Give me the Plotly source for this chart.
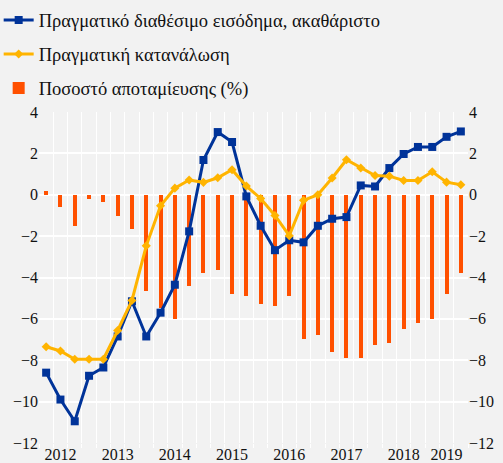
# =========================
# Dependencies
# =========================

import plotly.graph_objects as go

# =========================
# Data
# =========================

quarters = [
    '2012Q1', '2012Q2', '2012Q3', '2012Q4', '2013Q1', '2013Q2', '2013Q3', '2013Q4',
    '2014Q1', '2014Q2', '2014Q3', '2014Q4', '2015Q1', '2015Q2', '2015Q3', '2015Q4',
    '2016Q1', '2016Q2', '2016Q3', '2016Q4', '2017Q1', '2017Q2', '2017Q3', '2017Q4',
    '2018Q1', '2018Q2', '2018Q3', '2018Q4', '2019Q1', '2019Q2',
]

income = [
    -8.6, -9.9, -10.95, -8.75, -8.35, -6.85, -5.15, -6.85, -5.7, -4.35,
    -1.77, 1.68, 3.03, 2.55, -0.08, -1.5, -2.68, -2.2, -2.3, -1.5,
    -1.16, -1.08, 0.45, 0.4, 1.29, 1.97, 2.31, 2.31, 2.8, 3.06,
]

consumption = [
    -7.35, -7.55, -7.95, -7.95, -7.95, -6.56, -5.11, -2.47, -0.53, 0.32,
    0.71, 0.6, 0.82, 1.21, 0.42, -0.18, -1.0, -1.98, -0.27, 0.0,
    0.81, 1.69, 1.29, 0.93, 0.9, 0.69, 0.69, 1.11, 0.61, 0.48,
]

saving = [
    0.2, -0.57, -1.5, -0.19, -0.37, -1.05, -1.64, -4.64, -5.48, -6.0,
    -4.39, -3.77, -3.63, -4.79, -4.87, -5.27, -5.37, -4.87, -6.97, -6.76,
    -7.6, -7.87, -7.87, -7.26, -7.19, -6.48, -6.19, -6.0, -4.79, -3.77,
]

year_labels = ['2012', '2013', '2014', '2015', '2016', '2017', '2018', '2019']
year_label_quarters = ['2012Q2', '2013Q2', '2014Q2', '2015Q2', '2016Q2', '2017Q2', '2018Q2', '2019Q1']

y_ticks = [4, 2, 0, -2, -4, -6, -8, -10, -12]

# =========================
# Figure
# =========================

FONT = 'Liberation Serif'
BG = '#f2f2f2'
TXT = '#111111'

pos = list(range(len(quarters)))
label_pos = [quarters.index(q) for q in year_label_quarters]
boundaries = [p - 0.5 for p in pos] + [pos[-1] + 0.5]

fig = go.Figure()

fig.add_trace(go.Scatter(
    x=pos, y=income,
    name='Πραγματικό διαθέσιμο εισόδημα, ακαθάριστο',
    mode='lines+markers',
    line=dict(color='#003399', width=3),
    marker=dict(symbol='square', size=8, color='#003399'),
    legendgroup='a',
))

fig.add_trace(go.Scatter(
    x=pos, y=consumption,
    name='Πραγματική κατανάλωση',
    mode='lines+markers',
    line=dict(color='#ffb400', width=3),
    marker=dict(symbol='diamond', size=7, color='#ffb400'),
    legendgroup='b',
))

fig.add_trace(go.Bar(
    x=pos, y=saving,
    name='Ποσοστό αποταμίευσης (%)',
    marker=dict(color='#ff5000', line=dict(width=0)),
    width=0.28,
    legendgroup='c',
))

# invisible trace to hold the right-hand axis
fig.add_trace(go.Scatter(
    x=pos, y=income, yaxis='y2', xaxis='x2',
    mode='lines', line=dict(width=0), opacity=0,
    showlegend=False, hoverinfo='skip',
))

fig.update_layout(
    width=503, height=463,
    paper_bgcolor=BG, plot_bgcolor=BG,
    margin=dict(l=39, r=35, t=112, b=20, autoexpand=False),
    font=dict(family=FONT, size=16, color=TXT),
    showlegend=True,
    legend=dict(
        x=-0.094, y=1.334, xanchor='left', yanchor='top',
        bgcolor='rgba(0,0,0,0)',
        font=dict(family=FONT, size=18.5, color=TXT),
        traceorder='grouped', tracegroupgap=7,
    ),
    xaxis=dict(
        range=[-0.5, len(quarters) - 0.5],
        tickmode='array', tickvals=boundaries,
        ticktext=[''] * len(boundaries),
        showgrid=True, gridcolor='white', gridwidth=1,
        ticks='outside', tickcolor='white', ticklen=4,
        zeroline=False, showline=False,
    ),
    xaxis2=dict(
        overlaying='x', anchor='y', side='bottom',
        range=[-0.5, len(quarters) - 0.5],
        tickmode='array', tickvals=label_pos, ticktext=year_labels,
        tickangle=0,
        showgrid=False, ticks='', zeroline=False, showline=False,
        tickfont=dict(family=FONT, size=16, color=TXT),
    ),
    yaxis=dict(
        range=[-12, 4],
        tickmode='array', tickvals=y_ticks,
        showgrid=True, gridcolor='white', gridwidth=1.5,
        zeroline=False, showline=False, ticks='',
        tickfont=dict(family=FONT, size=16, color=TXT),
    ),
    yaxis2=dict(
        overlaying='y', side='right', anchor='x',
        range=[-12, 4],
        tickmode='array', tickvals=y_ticks,
        showgrid=False, zeroline=False, showline=False, ticks='',
        tickfont=dict(family=FONT, size=16, color=TXT),
    ),
    bargap=0,
)

fig.write_html(
    'out.html',
    config={'displayModeBar': False},
    post_script="document.body.style.margin='0';",
)
